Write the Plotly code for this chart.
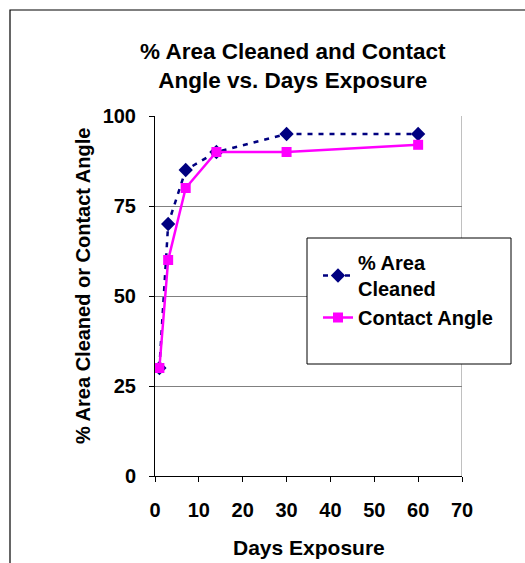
import plotly.graph_objects as go

days = [1, 3, 7, 14, 30, 60]
area_cleaned = [30, 70, 85, 90, 95, 95]
contact_angle = [30, 60, 80, 90, 90, 92]

W, H = 525, 563
L, R, T, B = 155, 462, 116, 476  # plot area in pixels
pw, ph = R - L, B - T

def px(x):
    return (x - L) / pw

def py(y):
    return (B - y) / ph

FONT = "Liberation Sans, Arial, sans-serif"

fig = go.Figure()
fig.add_trace(go.Scatter(
    x=days, y=area_cleaned, name="<b>% Area<br>Cleaned</b>", mode="lines+markers",
    line=dict(color="#000080", width=2.5, dash="5px,6px"),
    marker=dict(symbol="diamond", size=11, color="#000080"),
))
fig.add_trace(go.Scatter(
    x=days, y=contact_angle, name="<b>Contact Angle</b>", mode="lines+markers",
    line=dict(color="#FF00FF", width=2.5),
    marker=dict(symbol="square", size=10, color="#FF00FF"),
))

shapes = [
    # outer chart frame (extends beyond right/bottom edges)
    dict(type="rect", xref="paper", yref="paper",
         x0=px(10), x1=px(540), y0=py(580), y1=py(10),
         line=dict(color="black", width=1.2), fillcolor="rgba(0,0,0,0)", layer="below"),
    # right plot-area border
    dict(type="line", xref="x", yref="y", x0=70, x1=70, y0=0, y1=100,
         line=dict(color="#808080", width=1), layer="below"),
    # legend box
    dict(type="rect", xref="paper", yref="paper",
         x0=px(307), x1=px(511), y0=py(364), y1=py(238),
         line=dict(color="black", width=1), fillcolor="white", layer="above"),
]

annotations = [
    dict(text="<b>% Area Cleaned and Contact<br>Angle vs. Days Exposure</b>",
         xref="paper", yref="paper", x=px(293), y=py(66), xanchor="center", yanchor="middle",
         showarrow=False, font=dict(family=FONT, size=22.5, color="black")),
    dict(text="<b>Days Exposure</b>", xref="paper", yref="paper",
         x=px(309), y=py(547), xanchor="center", yanchor="middle",
         showarrow=False, font=dict(family=FONT, size=21, color="black")),
    dict(text="<b>% Area Cleaned or Contact Angle</b>", xref="paper", yref="paper",
         x=px(83), y=py(286), xanchor="center", yanchor="middle", textangle=-90,
         showarrow=False, font=dict(family=FONT, size=20, color="black")),
]

fig.update_layout(
    width=W, height=H,
    margin=dict(l=L, r=W - R, t=T, b=H - B, autoexpand=False),
    paper_bgcolor="white", plot_bgcolor="white",
    showlegend=True,
    legend=dict(x=px(318), y=py(243), xanchor="left", yanchor="top",
                bgcolor="rgba(0,0,0,0)", borderwidth=0,
                font=dict(family=FONT, size=20, color="black"),
                itemwidth=30, tracegroupgap=8),
    shapes=shapes,
    annotations=annotations,
    xaxis=dict(range=[0, 70], tickvals=[0, 10, 20, 30, 40, 50, 60, 70],
               showgrid=False, zeroline=False,
               showline=True, linecolor="black", linewidth=1,
               ticks="outside", ticklen=5, tickcolor="black", tickwidth=1,
               ticklabelstandoff=11,
               tickfont=dict(family=FONT, size=20, color="black", weight="bold")),
    yaxis=dict(range=[0, 100], tickvals=[0, 25, 50, 75, 100],
               showgrid=True, gridcolor="#808080", gridwidth=1, zeroline=False,
               showline=True, linecolor="black", linewidth=1,
               ticks="outside", ticklen=5, tickcolor="black", tickwidth=1,
               ticklabelstandoff=9,
               tickfont=dict(family=FONT, size=20, color="black", weight="bold")),
)

fig.write_html("out.html")
